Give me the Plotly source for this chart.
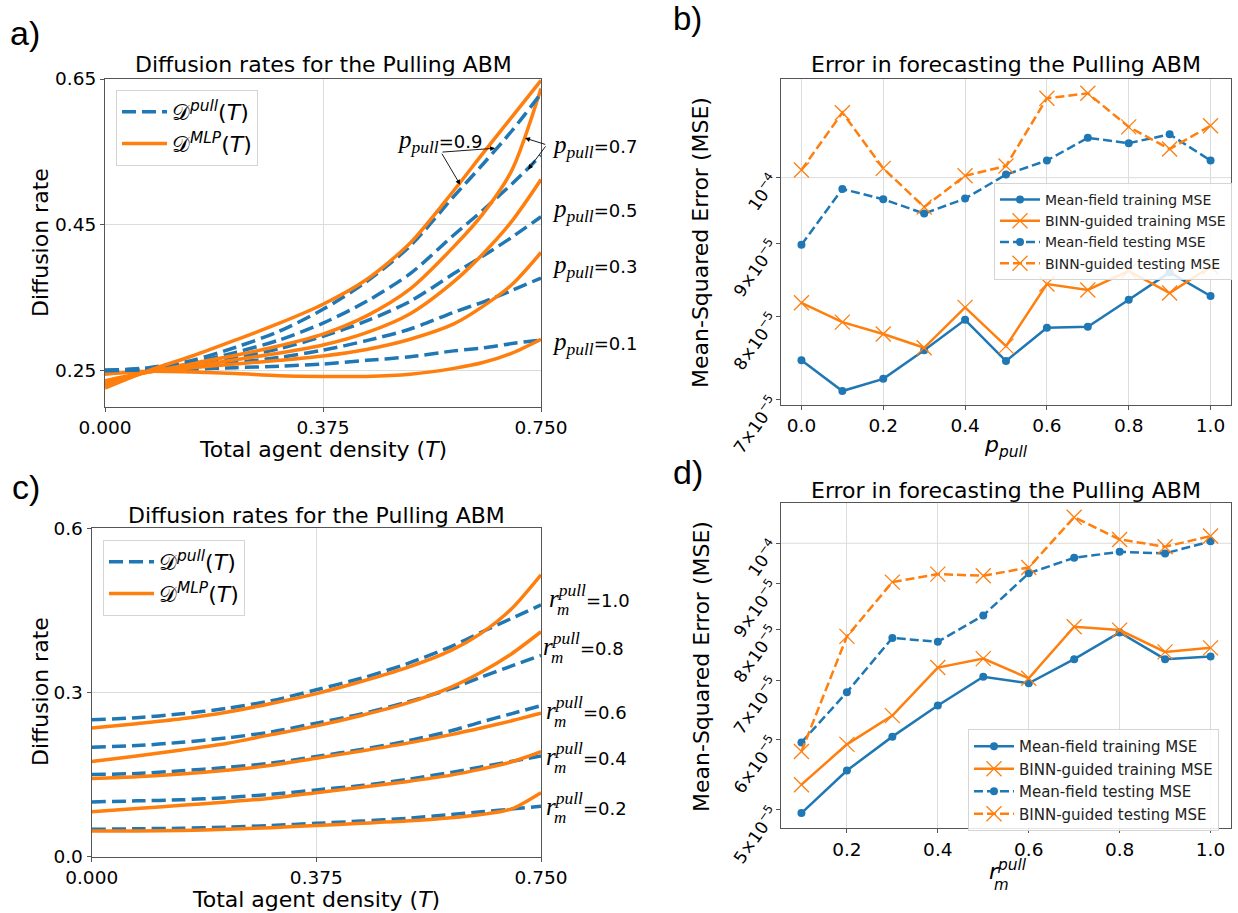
import plotly.graph_objects as go

W, H = 1238, 913
BLUE = "#1f77b4"
ORANGE = "#ff7f0e"
GRID = "#dcdcdc"
SPINE = "#555555"
SANS = "DejaVu Sans"
SERIF = "Liberation Serif"

# ---------------- data ----------------
T_grid = [0.0, 0.075, 0.15, 0.225, 0.3, 0.375, 0.45, 0.525, 0.6, 0.65, 0.7, 0.75]

# panel a : p_pull curves
p_pull_labels = ["0.1", "0.3", "0.5", "0.7", "0.9"]
D_pull_p01 = [0.250, 0.250, 0.252, 0.254, 0.256, 0.259, 0.264, 0.269, 0.277, 0.281, 0.287, 0.292]
D_pull_p03 = [0.250, 0.251, 0.255, 0.261, 0.268, 0.278, 0.291, 0.307, 0.330, 0.344, 0.360, 0.377]
D_pull_p05 = [0.250, 0.252, 0.258, 0.268, 0.280, 0.297, 0.318, 0.345, 0.383, 0.407, 0.433, 0.461]
D_pull_p07 = [0.250, 0.253, 0.261, 0.275, 0.292, 0.315, 0.345, 0.383, 0.436, 0.470, 0.506, 0.545]
D_pull_p09 = [0.250, 0.254, 0.264, 0.282, 0.304, 0.334, 0.372, 0.421, 0.489, 0.533, 0.579, 0.630]
D_mlp_p01 = [0.245, 0.249, 0.248, 0.246, 0.243, 0.242, 0.242, 0.245, 0.253, 0.261, 0.274, 0.293]
D_mlp_p03 = [0.236, 0.248, 0.254, 0.259, 0.264, 0.270, 0.279, 0.293, 0.314, 0.338, 0.368, 0.412]
D_mlp_p05 = [0.232, 0.248, 0.256, 0.265, 0.274, 0.285, 0.302, 0.328, 0.372, 0.410, 0.455, 0.512]
D_mlp_p07 = [0.229, 0.249, 0.260, 0.271, 0.284, 0.300, 0.325, 0.362, 0.420, 0.465, 0.525, 0.637]
D_mlp_p09 = [0.226, 0.250, 0.270, 0.292, 0.315, 0.341, 0.375, 0.425, 0.497, 0.548, 0.598, 0.648]

# panel c : r_m^pull curves
r_pull_labels = ["0.2", "0.4", "0.6", "0.8", "1.0"]
D_pull_r02 = [0.050, 0.051, 0.052, 0.054, 0.057, 0.061, 0.065, 0.070, 0.077, 0.082, 0.087, 0.092]
D_pull_r04 = [0.100, 0.102, 0.104, 0.108, 0.114, 0.122, 0.130, 0.141, 0.154, 0.164, 0.174, 0.184]
D_pull_r06 = [0.150, 0.152, 0.157, 0.163, 0.171, 0.183, 0.196, 0.211, 0.230, 0.246, 0.261, 0.276]
D_pull_r08 = [0.200, 0.203, 0.209, 0.217, 0.228, 0.244, 0.261, 0.282, 0.307, 0.328, 0.348, 0.368]
D_pull_r10 = [0.250, 0.254, 0.261, 0.271, 0.285, 0.305, 0.326, 0.352, 0.384, 0.410, 0.435, 0.460]
D_mlp_r02 = [0.047, 0.047, 0.048, 0.050, 0.053, 0.057, 0.061, 0.065, 0.071, 0.077, 0.087, 0.117]
D_mlp_r04 = [0.082, 0.088, 0.094, 0.100, 0.107, 0.117, 0.127, 0.137, 0.149, 0.160, 0.173, 0.192]
D_mlp_r06 = [0.143, 0.146, 0.151, 0.158, 0.167, 0.180, 0.193, 0.207, 0.223, 0.235, 0.248, 0.262]
D_mlp_r08 = [0.174, 0.184, 0.195, 0.207, 0.223, 0.239, 0.258, 0.280, 0.310, 0.337, 0.370, 0.411]
D_mlp_r10 = [0.235, 0.243, 0.252, 0.264, 0.280, 0.298, 0.320, 0.345, 0.377, 0.408, 0.452, 0.515]

# panel b : MSE vs p_pull
p_pull_values = [0.0, 0.1, 0.2, 0.3, 0.4, 0.5, 0.6, 0.7, 0.8, 0.9, 1.0]
mf_train_b = [7.46e-5, 7.10e-5, 7.24e-5, 7.58e-5, 7.96e-5, 7.45e-5, 7.86e-5, 7.87e-5, 8.22e-5, 8.59e-5, 8.27e-5]
binn_train_b = [8.18e-5, 7.93e-5, 7.78e-5, 7.61e-5, 8.12e-5, 7.63e-5, 8.43e-5, 8.35e-5, 8.61e-5, 8.31e-5, 8.67e-5]
mf_test_b = [8.98e-5, 9.82e-5, 9.66e-5, 9.44e-5, 9.67e-5, 1.005e-4, 1.028e-4, 1.066e-4, 1.057e-4, 1.072e-4, 1.028e-4]
binn_test_b = [1.0125e-4, 1.110e-4, 1.015e-4, 9.54e-5, 1.003e-4, 1.019e-4, 1.136e-4, 1.145e-4, 1.085e-4, 1.047e-4, 1.087e-4]

# panel d : MSE vs r_m^pull
r_pull_values = [0.1, 0.2, 0.3, 0.4, 0.5, 0.6, 0.7, 0.8, 0.9, 1.0]
mf_train_d = [4.96e-5, 5.54e-5, 6.05e-5, 6.56e-5, 7.07e-5, 6.95e-5, 7.40e-5, 7.93e-5, 7.40e-5, 7.45e-5]
binn_train_d = [5.34e-5, 5.93e-5, 6.39e-5, 7.24e-5, 7.41e-5, 7.04e-5, 8.05e-5, 7.98e-5, 7.54e-5, 7.62e-5]
mf_test_d = [5.96e-5, 6.79e-5, 7.82e-5, 7.74e-5, 8.29e-5, 9.25e-5, 9.63e-5, 9.78e-5, 9.74e-5, 1.005e-4]
binn_test_d = [5.82e-5, 7.85e-5, 9.04e-5, 9.23e-5, 9.19e-5, 9.39e-5, 1.070e-4, 1.010e-4, 9.91e-5, 1.019e-4]

# ticks
T_tickvals = [0.0, 0.375, 0.75]
T_ticktext = ["0.000", "0.375", "0.750"]
a_ytickvals = [0.25, 0.45, 0.65]
a_yticktext = ["0.25", "0.45", "0.65"]
c_ytickvals = [0.0, 0.3, 0.6]
c_yticktext = ["0.0", "0.3", "0.6"]
b_xtickvals = [0.0, 0.2, 0.4, 0.6, 0.8, 1.0]
b_xticktext = ["0.0", "0.2", "0.4", "0.6", "0.8", "1.0"]
d_xtickvals = [0.2, 0.4, 0.6, 0.8, 1.0]
d_xticktext = ["0.2", "0.4", "0.6", "0.8", "1.0"]
b_ytickvals = [7e-5, 8e-5, 9e-5, 1e-4]
b_yticktext = ["7×10<sup>−5</sup>", "8×10<sup>−5</sup>", "9×10<sup>−5</sup>", "10<sup>−4</sup>"]
d_ytickvals = [5e-5, 6e-5, 7e-5, 8e-5, 9e-5, 1e-4]
d_yticktext = ["5×10<sup>−5</sup>", "6×10<sup>−5</sup>", "7×10<sup>−5</sup>",
               "8×10<sup>−5</sup>", "9×10<sup>−5</sup>", "10<sup>−4</sup>"]

# ---------------- figure ----------------
fig = go.Figure()

LBL_PULL = "𝒟<sup><i>pull</i></sup>(<i>T</i>)"
LBL_MLP = "𝒟<sup><i>MLP</i></sup>(<i>T</i>)"

def curve_pair(pull, mlp, xa, ya, leg, first):
    fig.add_trace(go.Scatter(x=T_grid, y=pull, mode="lines", xaxis=xa, yaxis=ya,
                             line=dict(color=BLUE, width=3.5, dash="14px,6px", shape="spline", smoothing=0.8),
                             name=LBL_PULL, legend=leg, showlegend=first, legendrank=1))
    fig.add_trace(go.Scatter(x=T_grid, y=mlp, mode="lines", xaxis=xa, yaxis=ya,
                             line=dict(color=ORANGE, width=3.5, shape="spline", smoothing=0.8),
                             name=LBL_MLP, legend=leg, showlegend=first, legendrank=2))

pairs_a = [(D_pull_p01, D_mlp_p01), (D_pull_p03, D_mlp_p03), (D_pull_p05, D_mlp_p05),
           (D_pull_p07, D_mlp_p07), (D_pull_p09, D_mlp_p09)]
for i, (pu, ml) in enumerate(pairs_a):
    curve_pair(pu, ml, "x", "y", "legend", i == 0)

pairs_c = [(D_pull_r02, D_mlp_r02), (D_pull_r04, D_mlp_r04), (D_pull_r06, D_mlp_r06),
           (D_pull_r08, D_mlp_r08), (D_pull_r10, D_mlp_r10)]
for i, (pu, ml) in enumerate(pairs_c):
    curve_pair(pu, ml, "x3", "y3", "legend3", i == 0)

def mse_traces(xv, mftr, bntr, mfte, bnte, xa, ya, leg):
    circ = dict(symbol="circle", size=8, color=BLUE)
    xm = dict(symbol="x-thin", size=15, color=ORANGE, line=dict(width=1.3, color=ORANGE))
    fig.add_trace(go.Scatter(x=xv, y=mftr, mode="lines+markers", xaxis=xa, yaxis=ya, legend=leg,
                             name="Mean-field training MSE", line=dict(color=BLUE, width=2.5), marker=circ))
    fig.add_trace(go.Scatter(x=xv, y=bntr, mode="lines+markers", xaxis=xa, yaxis=ya, legend=leg,
                             name="BINN-guided training MSE", line=dict(color=ORANGE, width=2.5), marker=xm))
    fig.add_trace(go.Scatter(x=xv, y=mfte, mode="lines+markers", xaxis=xa, yaxis=ya, legend=leg,
                             name="Mean-field testing MSE", line=dict(color=BLUE, width=2.5, dash="9px,4px"), marker=circ))
    fig.add_trace(go.Scatter(x=xv, y=bnte, mode="lines+markers", xaxis=xa, yaxis=ya, legend=leg,
                             name="BINN-guided testing MSE", line=dict(color=ORANGE, width=2.5, dash="9px,4px"), marker=xm))

mse_traces(p_pull_values, mf_train_b, binn_train_b, mf_test_b, binn_test_b, "x2", "y2", "legend2")
mse_traces(r_pull_values, mf_train_d, binn_train_d, mf_test_d, binn_test_d, "x4", "y4", "legend4")

def dx(p0, p1):
    return [p0 / W, p1 / W]

def dy(top, bot):
    return [1 - bot / H, 1 - top / H]

axis_common = dict(showline=True, linecolor=SPINE, linewidth=1.2, mirror=True, ticks="outside",
                   ticklen=4, tickcolor=SPINE, gridcolor=GRID, gridwidth=1, zeroline=False,
                   automargin=False)
tf_main = dict(family=SANS, size=18.5, color="black")
tf_log = dict(family=SANS, size=17, color="black")

fig.update_layout(
    template="none",
    xaxis=dict(domain=dx(105, 541), range=[0, 0.75], tickvals=T_tickvals, ticktext=T_ticktext,
               anchor="y", showgrid=True, tickfont=tf_main, **axis_common),
    yaxis=dict(domain=dy(79, 407), range=[0.2, 0.65], tickvals=a_ytickvals, ticktext=a_yticktext,
               anchor="x", showgrid=True, tickfont=tf_main, **axis_common),
    xaxis2=dict(domain=dx(781, 1231), range=[-0.05, 1.05], tickvals=b_xtickvals, ticktext=b_xticktext,
                anchor="y2", showgrid=True, tickfont=tf_main, **axis_common),
    yaxis2=dict(domain=dy(79, 405), type="log", range=[-4.1585, -3.9312], tickvals=b_ytickvals,
                ticktext=b_yticktext, tickangle=-55, anchor="x2", showgrid=False, tickfont=tf_log,
                **axis_common),
    xaxis3=dict(domain=dx(91.7, 541), range=[0, 0.75], tickvals=T_tickvals, ticktext=T_ticktext,
                anchor="y3", showgrid=True, tickfont=tf_main, **axis_common),
    yaxis3=dict(domain=dy(528.3, 856.7), range=[0, 0.6], tickvals=c_ytickvals, ticktext=c_yticktext,
                anchor="x3", showgrid=True, tickfont=tf_main, **axis_common),
    xaxis4=dict(domain=dx(781, 1231), range=[0.055, 1.045], tickvals=d_xtickvals, ticktext=d_xticktext,
                anchor="y4", showgrid=True, tickfont=tf_main, **axis_common),
    yaxis4=dict(domain=dy(503.3, 828.3), type="log", range=[-4.3217, -3.9549], tickvals=d_ytickvals,
                ticktext=d_yticktext, tickangle=-55, anchor="x4", showgrid=False, tickfont=tf_log,
                **axis_common),
)

legend_common = dict(xanchor="left", yanchor="top", bgcolor="rgba(255,255,255,0.85)",
                     bordercolor="#d5d5d5", borderwidth=1)
fig.update_layout(
    legend=dict(x=116 / W, y=1 - 90 / H, font=dict(family=SANS, size=22, color="black"),
                itemwidth=45, **legend_common),
    legend3=dict(x=103 / W, y=1 - 540 / H, font=dict(family=SANS, size=22, color="black"),
                 itemwidth=45, **legend_common),
    legend2=dict(x=994 / W, y=1 - 183 / H, font=dict(family=SANS, size=14, color="#222"),
                 itemwidth=40, **legend_common),
    legend4=dict(x=968 / W, y=1 - 729 / H, font=dict(family=SANS, size=15, color="#222"),
                 itemwidth=40, **legend_common),
)

# grid line at 10^-4 only (major decade) for log panels
fig.update_layout(shapes=[
    dict(type="line", xref="x2 domain", x0=0, x1=1, yref="y2", y0=1e-4, y1=1e-4,
         line=dict(color=GRID, width=1), layer="below"),
    dict(type="line", xref="x4 domain", x0=0, x1=1, yref="y4", y0=1e-4, y1=1e-4,
         line=dict(color=GRID, width=1), layer="below"),
])

def ann(text, x, y, size=22, xanchor="center", yanchor="middle", angle=0, family=SANS):
    return dict(text=text, x=x / W, y=1 - y / H, xref="paper", yref="paper", xanchor=xanchor,
                yanchor=yanchor, showarrow=False, textangle=angle,
                font=dict(size=size, family=family, color="black"))

def arrow(tail, head, xr, yr):
    return dict(text="", x=head[0], y=head[1], ax=tail[0], ay=tail[1], xref=xr, yref=yr,
                axref=xr, ayref=yr, showarrow=True, arrowhead=2, arrowsize=1.1,
                arrowwidth=0.9, arrowcolor="black", standoff=0, startstandoff=0)

def plab(val):
    return ('<span style="font-family:Liberation Serif;font-size:25px"><i>p</i><sub><i>pull</i></sub></span>=' + val)

def rlab(val):
    return ('<span style="font-family:Liberation Serif;font-size:25px"><i>r</i><sup><i>pull</i></sup></span>=' + val)

annotations = [
    # panel letters
    ann("a)", 8, 33, size=34, xanchor="left", family="Liberation Sans"),
    ann("b)", 671, 19, size=33, xanchor="left", family="Liberation Sans"),
    ann("c)", 10, 487, size=34, xanchor="left", family="Liberation Sans"),
    ann("d)", 671, 472, size=34, xanchor="left", family="Liberation Sans"),
    # titles
    ann("Diffusion rates for the Pulling ABM", 323, 65),
    ann("Error in forecasting the Pulling ABM", 1006, 65),
    ann("Diffusion rates for the Pulling ABM", 316, 515),
    ann("Error in forecasting the Pulling ABM", 1006, 490),
    # axis titles
    ann("Diffusion rate", 40, 243, angle=-90),
    ann("Total agent density (<i>T</i>)", 323, 449),
    ann("Mean-Squared Error (MSE)", 701, 242, angle=-90),
    ann("<i>p</i><sub><i>pull</i></sub>", 1006, 446),
    ann("Diffusion rate", 40, 692, angle=-90),
    ann("Total agent density (<i>T</i>)", 316, 899),
    ann("Mean-Squared Error (MSE)", 701, 666, angle=-90),
    ann("<i>r</i><sup><i>pull</i></sup>", 1008, 870),
    ann("<i>m</i>", 1001, 885, size=15),
]

# panel a labels
annotations.append(ann(plab("0.9"), 395, 141, size=18, xanchor="left"))
for val, yc in zip(["0.7", "0.5", "0.3", "0.1"], [147, 210, 267, 343]):
    annotations.append(ann(plab(val), 550, yc, size=18, xanchor="left"))
annotations += [
    arrow((0.578, 0.5496), (0.671, 0.555), "x", "y"),
    arrow((0.578, 0.5496), (0.611, 0.505), "x", "y"),
    arrow((0.7598, 0.5596), (0.7225, 0.569), "x", "y"),
    arrow((0.7598, 0.5596), (0.728, 0.526), "x", "y"),
]

# panel c labels
for val, yc, xl in zip(["1.0", "0.8", "0.6", "0.4", "0.2"], [600, 648, 712, 758, 808],
                       [547, 541, 544, 544, 544]):
    annotations.append(ann(rlab(val), xl, yc - 4, size=18, xanchor="left"))
    annotations.append(ann("<i>m</i>", xl + 8, yc + 9, size=17, xanchor="left", family=SERIF))

fig.update_layout(annotations=annotations)

fig.update_layout(width=W, height=H, margin=dict(l=0, r=0, t=0, b=0, autoexpand=False),
                  paper_bgcolor="white", plot_bgcolor="white",
                  font=dict(family=SANS, color="black"))

fig.write_html("out.html")
